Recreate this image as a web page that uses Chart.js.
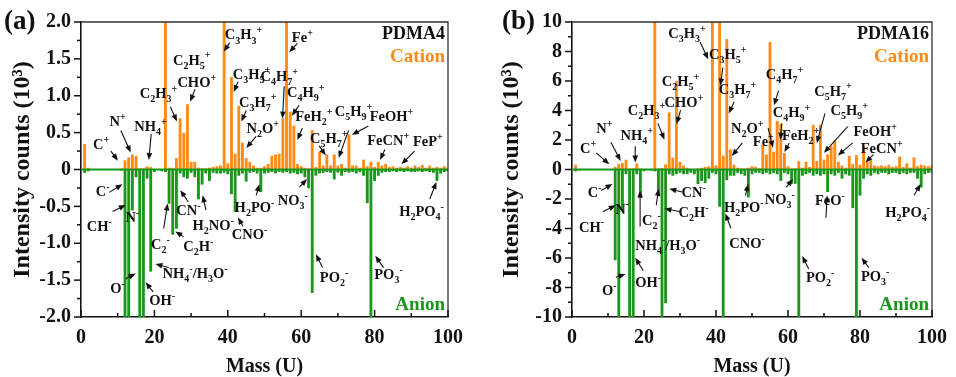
<!DOCTYPE html>
<html><head><meta charset="utf-8">
<script src="https://cdn.jsdelivr.net/npm/chart.js@4.4.1/dist/chart.umd.min.js"></script>
<style>
html,body{margin:0;padding:0;background:#fff;}
#wrap{position:relative;width:956px;height:377px;overflow:hidden;}
.pane{position:absolute;top:0;width:478px;height:377px;}
</style></head>
<body><div id="wrap">
<div class="pane" style="left:0"><canvas id="ca" width="478" height="377"></canvas></div>
<div class="pane" style="left:478px"><canvas id="cb" width="478" height="377"></canvas></div>
</div>
<script>
// ---- data (intensity in 10^3 counts) ----
const mass = [1,2,3,4,5,6,7,8,9,10,11,12,13,14,15,16,17,18,19,20,21,22,23,24,25,26,27,28,29,30,31,32,33,34,35,36,37,38,39,40,41,42,43,44,45,46,47,48,49,50,51,52,53,54,55,56,57,58,59,60,61,62,63,64,65,66,67,68,69,70,71,72,73,74,75,76,77,78,79,80,81,82,83,84,85,86,87,88,89,90,91,92,93,94,95,96,97,98,99,100];

const cationA = [0.34,0.02,0,0,0,0,0,0,0,0,
 0.01,0.12,0.16,0.20,0.18,0.01,0.01,0.04,0.03,0,
 0,0,4.0,0.02,0.02,0.15,0.69,0.49,0.88,0.10,
 0.10,0.02,0.01,0.01,0.02,0.03,0.04,0.05,3.5,0.08,
 1.25,0.21,0.86,0.36,0.15,0.10,0.05,0.02,0.02,0.04,
 0.07,0.18,0.20,0.21,0.69,3.0,0.78,0.59,0.07,0.04,
 0.02,0.01,0.53,0.03,0.24,0.05,0.20,0.05,0.20,0.05,
 0.07,0.02,0.47,0.05,0.05,0.02,0.13,0.04,0.10,0.03,
 0.10,0.05,0.07,0.03,0.04,0.02,0.03,0.02,0.04,0.02,
 0.05,0.03,0.06,0.02,0.05,0.02,0.03,0.02,0.04,0.02];

const anionA = [-0.04,-0.02,0,0,0,0,0,0,0,0,
 -0.01,-3.5,-3.0,-0.55,-0.10,-4.0,-3.0,-0.12,-1.38,-0.03,
 0,-0.02,-0.03,-0.46,-0.88,-0.80,-0.05,-0.10,-0.12,-0.04,
 -0.10,-0.40,-0.20,-0.05,-0.15,-0.04,-0.05,-0.05,-0.04,-0.06,
 -0.33,-0.57,-0.08,-0.05,-0.16,-0.04,-0.03,-0.05,-0.30,-0.05,
 -0.04,-0.03,-0.05,-0.03,-0.04,-0.03,-0.05,-0.04,-0.06,-0.05,
 -0.10,-0.25,-1.67,-0.08,-0.05,-0.04,-0.03,-0.04,-0.13,-0.04,
 -0.08,-0.03,-0.04,-0.03,-0.05,-0.03,-0.08,-0.45,-2.5,-0.15,
 -0.08,-0.04,-0.03,-0.03,-0.02,-0.03,-0.02,-0.03,-0.02,-0.03,
 -0.03,-0.02,-0.03,-0.02,-0.03,-0.04,-0.15,-0.05,-0.03,-0.02];

const cationB = [0.30,0.02,0,0,0,0,0,0,0,0,
 0.02,0.15,0.35,0.42,0.64,0.05,0.05,0.38,0.05,0,
 0,0,15,0.05,0.08,0.33,3.85,0.78,5.96,0.50,
 0.25,0.10,0.02,0.02,0.05,0.10,0.15,0.20,14,0.27,
 12,0.93,8.82,1.34,0.30,0.10,0.05,0.05,0.10,0.20,
 0.15,0.05,1.67,1.00,8.63,1.18,3.27,3.07,1.10,0.20,
 0.05,0.05,0.55,0.10,0.50,0.15,3.00,0.55,3.00,0.65,
 1.00,1.56,1.96,0.50,0.25,0.10,0.90,0.35,0.95,0.30,
 1.56,0.50,0.60,0.25,0.20,0.25,0.20,0.30,0.15,0.20,
 0.85,0.15,0.40,0.10,0.80,0.20,0.30,0.25,0.20,0.25];

const anionB = [-0.10,-0.05,-0.02,-0.02,-0.02,-0.02,-0.02,-0.02,-0.02,-0.02,
 -0.02,-6.13,-14,-2.75,-0.30,-15,-12,-0.30,-1.90,-0.10,
 -0.02,-0.05,-0.10,-1.80,-13,-9.04,-0.30,-0.40,-0.30,-0.20,
 -0.30,-0.30,-0.20,-0.30,-0.97,-0.75,-0.90,-0.60,-0.20,-0.30,
 -2.50,-12,-0.70,-0.40,-0.40,-0.20,-0.30,-0.40,-1.87,-0.30,
 -0.20,-0.20,-0.30,-0.20,-0.30,-0.20,-0.30,-0.75,-0.20,-0.30,
 -0.95,-0.95,-13,-0.40,-0.30,-0.20,-0.40,-0.30,-0.40,-0.30,
 -1.50,-0.30,-0.40,-0.20,-0.60,-0.30,-0.40,-2.60,-14,-1.75,
 -0.60,-0.30,-0.40,-0.20,-0.30,-0.20,-0.20,-0.30,-0.20,-0.20,
 -0.30,-0.20,-0.30,-0.20,-0.20,-0.60,-1.20,-0.30,-0.20,-0.20];

const xTicks = [0,20,40,60,80,100];
const yTicksA = [-2.0,-1.5,-1.0,-0.5,0,0.5,1.0,1.5,2.0];
const yTicksB = [-10,-8,-6,-4,-2,0,2,4,6,8,10];

// ion labels: [text, textMass, textValue, arrowFromMass, arrowFromValue, arrowToMass, arrowToValue]
const ionsA = [
 ['C^+',5.45,0.34,8.15,0.25,10.04,0.12],
 ['N^+',9.96,0.65,10.85,0.53,13.55,0.23],
 ['NH_4^+',18.94,0.59,19.13,0.48,18.48,0.13],
 ['C_2H_3^+',21.1,1.04,24.34,0.85,26.15,0.65],
 ['C_2H_5^+',30.19,1.49],
 ['CHO^+',31.54,1.19,31.08,1.09,29.74,0.92],
 ['C_3H_3^+',44.3,1.83,40.53,1.72,38.91,1.6],
 ['C_3H_5^+',46.47,1.29,42.77,1.19,41.61,1.05],
 ['C_3H_7^+',48.17,0.92,45.03,0.8,43.69,0.65],
 ['N_2O^+',49.52,0.56,47.73,0.45,45.03,0.29],
 ['Fe^+',60.31,1.8,58.96,1.71,56.72,1.59],
 ['C_4H_7^+',54.02,1.27,55.37,1.13,54.91,0.69],
 ['C_4H_9^+',61.22,1.05,59.42,0.87,57.45,0.73],
 ['FeH_2^+',63.46,0.72,60.31,0.56,58.96,0.4],
 ['C_5H_9^+',74.26,0.79,72.91,0.53,70.21,0.16],
 ['C_5H_7^+',67.51,0.43,64.9,0.32,66.7,0.19],
 ['FeOH^+',84.6,0.72,78.3,0.59,73.8,0.47],
 ['FeCN^+',83.7,0.4,82.81,0.27,81.46,0.13],
 ['FeP^+',94.5,0.39,90.9,0.25,87.3,0.07],
 ['C^-',5.91,-0.29,7.69,-0.31,11.31,-0.2],
 ['CH^-',4.99,-0.77,8.61,-0.57,12.2,-0.48],
 ['N^-',14.0,-0.64],
 ['C_2^-',21.64,-1.01,22.53,-0.8,23.61,-0.46],
 ['CN^-',29.28,-0.55,29.28,-0.44,27.04,-0.28],
 ['C_2H^-',31.98,-1.04,27.93,-0.91,25.69,-0.84],
 ['H_2NO^-',36.02,-0.75,34.05,-0.55,33.16,-0.35],
 ['NH_4^-/H_3O^-',31.09,-1.41,23.88,-1.33,20.29,-1.28],
 ['O^-',9.96,-1.61,12.2,-1.48,14.9,-1.41],
 ['OH^-',22.1,-1.77,19.67,-1.66,17.59,-1.53],
 ['CNO^-',45.93,-0.88,44.12,-0.77,42.77,-0.65],
 ['H_2PO^-',47.27,-0.51,47.73,-0.35,48.62,-0.2],
 ['NO_3^-',57.72,-0.41,59.5,-0.24,61.58,-0.13],
 ['PO_2^-',68.94,-1.46,65.81,-1.33,64.0,-1.15],
 ['PO_3^-',83.78,-1.42,82.43,-1.33,80.19,-1.17],
 ['H_2PO_4^-',92.8,-0.56,95.04,-0.4,96.84,-0.17]
];
const ionsB = [
 ['C^+',4.49,1.47,6.76,1.13,10.35,0.35],
 ['N^+',9.0,2.8,10.81,1.85,13.51,0.58],
 ['NH_4^+',18.0,2.35,17.57,1.58,17.57,0.47],
 ['C_2H_3^+',20.7,4.02,23.86,3.13,25.68,2.02],
 ['C_2H_5^+',30.16,6.02],
 ['CHO^+',31.08,4.58,30.16,4.02,29.08,3.09],
 ['C_3H_3^+',31.97,9.25,35.57,8.65,37.84,7.47],
 ['C_3H_5^+',43.24,7.8,41.89,6.91,41.24,5.69],
 ['C_3H_7^+',45.95,5.47,45.03,4.58,43.51,3.8],
 ['N_2O^+',48.65,2.8,47.3,1.8,44.41,0.91],
 ['C_4H_7^+',59.0,6.47,57.38,5.35,56.11,4.35],
 ['C_4H_9^+',60.97,3.91,58.27,3.13,57.92,2.02],
 ['Fe^+',53.14,1.91,54.49,2.8,55.84,1.47],
 ['FeH_2^+',63.51,2.35,60.35,1.8,59.0,1.18],
 ['C_5H_7^+',72.51,5.35,70.27,3.8,68.0,1.8],
 ['C_5H_9^+',77.03,4.02,76.57,2.91,70.0,1.13],
 ['FeOH^+',84.22,2.58,77.92,1.8,73.86,0.95],
 ['FeCN^+',86.03,1.47,83.78,1.02,81.51,0.47],
 ['C^-',6.3,-1.53,8.11,-1.42,11.24,-0.98],
 ['CH^-',5.41,-3.87,8.54,-2.87,12.16,-2.42],
 ['N^-',13.95,-2.65],
 ['O^-',10.35,-8.2,12.16,-7.31,14.86,-7.09],
 ['OH^-',21.16,-7.65,19.81,-6.87,17.57,-5.98],
 ['NH_4^-/H_3O^-',26.57,-5.09,18.92,-3.87,18.92,-1.42],
 ['C_2^-',22.05,-3.42,23.41,-2.42,24.05,-1.31],
 ['CN^-',33.78,-1.53,30.62,-1.53,27.03,-1.31],
 ['C_2H^-',33.78,-2.87,30.16,-2.87,25.68,-2.65],
 ['CNO^-',48.65,-4.98,44.14,-3.98,42.59,-2.98],
 ['H_2PO^-',47.73,-2.53,48.19,-1.75,48.92,-0.98],
 ['NO_3^-',57.73,-1.98,59.54,-1.2,61.35,-0.65],
 ['FeO^-',71.62,-2.09,70.54,-3.27,70.89,-1.75],
 ['PO_2^-',68.92,-7.31,65.76,-6.75,63.95,-5.87],
 ['PO_3^-',84.22,-7.2,82.43,-6.65,80.43,-5.98],
 ['H_2PO_4^-',93.24,-2.87,95.03,-1.75,96.84,-0.98]
];

// ---- styling ----
const FONT = '"Liberation Serif","Times New Roman",serif';
const ORANGE = '#ff8a14';
const GREEN = '#1a961a';

function parseRich(s){
  const out=[];let i=0;
  while(i<s.length){
    const c=s[i];
    if(c==='_'||c==='^'){out.push({t:s[i+1],m:c==='_'?1:2});i+=2;}
    else{out.push({t:c,m:0});i++;}
  }
  return out;
}
function drawRich(ctx,s,cx,cy,size){
  const toks=parseRich(s);
  const small=Math.round(size*0.68);
  let w=0;
  toks.forEach(t=>{ctx.font='bold '+(t.m?small:size)+'px '+FONT;t.w=ctx.measureText(t.t).width;w+=t.w;});
  let x=cx-w/2;const base=cy+size*0.34;
  ctx.textAlign='left';ctx.textBaseline='alphabetic';ctx.fillStyle='#111';
  toks.forEach(t=>{
    ctx.font='bold '+(t.m?small:size)+'px '+FONT;
    const dy=t.m===1?size*0.28:(t.m===2?-size*0.42:0);
    ctx.fillText(t.t,x,base+dy);x+=t.w;
  });
}
function arrow(ctx,x1,y1,x2,y2){
  const a=Math.atan2(y2-y1,x2-x1),L=7,H=2.8;
  ctx.strokeStyle='#111';ctx.fillStyle='#111';ctx.lineWidth=1.1;
  ctx.beginPath();ctx.moveTo(x1,y1);ctx.lineTo(x2-L*0.8*Math.cos(a),y2-L*0.8*Math.sin(a));ctx.stroke();
  ctx.beginPath();ctx.moveTo(x2,y2);
  ctx.lineTo(x2-L*Math.cos(a)+H*Math.sin(a),y2-L*Math.sin(a)-H*Math.cos(a));
  ctx.lineTo(x2-L*Math.cos(a)-H*Math.sin(a),y2-L*Math.sin(a)+H*Math.cos(a));
  ctx.closePath();ctx.fill();
}

const decor = {
  id:'decor',
  afterDatasetsDraw(chart,args,o){
    const {ctx,chartArea:ca,scales:{x,y}}=chart;
    ctx.save();
    // zero line
    const y0=y.getPixelForValue(0);
    ctx.strokeStyle=GREEN;ctx.lineWidth=2.2;
    ctx.beginPath();ctx.moveTo(ca.left,y0);ctx.lineTo(ca.right,y0);ctx.stroke();
    // box top/right
    ctx.strokeStyle='#333';ctx.lineWidth=1.3;
    ctx.beginPath();ctx.moveTo(ca.left,ca.top);ctx.lineTo(ca.right,ca.top);ctx.lineTo(ca.right,ca.bottom);ctx.stroke();
    // ticks
    ctx.strokeStyle='#111';ctx.lineWidth=1.5;
    for(let v=y.min;v<=y.max+1e-9;v+=o.minorY){
      const p=y.getPixelForValue(v);
      const major=Math.abs(Math.round(v/o.majorY)*o.majorY-v)<1e-6;
      ctx.beginPath();ctx.moveTo(ca.left,p);ctx.lineTo(ca.left-(major?7:4),p);ctx.stroke();
    }
    for(let v=x.min;v<=x.max+1e-9;v+=10){
      const p=x.getPixelForValue(v);
      const major=v%20===0;
      ctx.beginPath();ctx.moveTo(p,ca.bottom);ctx.lineTo(p,ca.bottom-(major?7:4));ctx.stroke();
    }
    // ion labels
    o.ions.forEach(a=>{
      if(a.length>3){
        arrow(ctx,x.getPixelForValue(a[3]),y.getPixelForValue(a[4]),x.getPixelForValue(a[5]),y.getPixelForValue(a[6]));
      }
    });
    o.ions.forEach(a=>{
      drawRich(ctx,a[0],x.getPixelForValue(a[1]),y.getPixelForValue(a[2]),14.5);
    });
    // sample / polarity tags
    ctx.textAlign='right';ctx.textBaseline='middle';
    ctx.font='bold 18px '+FONT;ctx.fillStyle='#111';
    ctx.fillText(o.sample,ca.right-3,ca.top+12);
    ctx.font='bold 19px '+FONT;ctx.fillStyle=ORANGE;
    ctx.fillText('Cation',ca.right-3,ca.top+35);
    ctx.fillStyle=GREEN;
    ctx.fillText('Anion',ca.right-3,ca.bottom-12);
    // panel letter
    ctx.textAlign='left';ctx.fillStyle='#111';ctx.font='bold 27px '+FONT;
    ctx.fillText(o.letter,o.letterX,22);
    ctx.restore();
  }
};

function makeChart(id,cat,an,cfg){
  const pts=(arr)=>mass.map((m,i)=>({x:m,y:arr[i]}));
  return new Chart(document.getElementById(id),{
    type:'bar',
    data:{datasets:[
      {label:'Cation',data:pts(cat),backgroundColor:ORANGE,barThickness:2.2,grouped:false},
      {label:'Anion',data:pts(an),backgroundColor:GREEN,barThickness:2.2,grouped:false}
    ]},
    options:{
      responsive:false,animation:false,devicePixelRatio:1,
      layout:{padding:{left:0,right:cfg.padRight,top:17,bottom:0}},
      plugins:{legend:{display:false},tooltip:{enabled:false},
        decor:{ions:cfg.ions,sample:cfg.sample,letter:cfg.letter,letterX:cfg.letterX,minorY:cfg.minorY,majorY:cfg.majorY}},
      scales:{
        x:{type:'linear',min:0,max:100,offset:false,
          afterBuildTicks:s=>{s.ticks=xTicks.map(v=>({value:v}));},
          afterFit:s=>{s.height=60;},
          grid:{display:false,drawTicks:false},
          border:{display:true,color:'#111',width:1.6},
          ticks:{color:'#111',padding:9,font:{family:FONT,size:20,weight:'bold'},maxRotation:0,autoSkip:false},
          title:{display:true,text:'Mass (U)',color:'#111',font:{family:FONT,size:20,weight:'bold',lineHeight:1.0},padding:{top:0,bottom:0}}
        },
        y:{min:cfg.ymin,max:cfg.ymax,
          afterBuildTicks:s=>{s.ticks=cfg.yTicks.map(v=>({value:v}));},
          afterFit:s=>{s.width=cfg.yWidth;},
          grid:{display:false,drawTicks:false},
          border:{display:true,color:'#111',width:1.6},
          ticks:{color:'#111',padding:10,font:{family:FONT,size:20,weight:'bold'},callback:cfg.fmt,autoSkip:false},
          title:{display:true,text:'Intensity counts (10³)',color:'#111',font:{family:FONT,size:24,weight:'bold',lineHeight:1.2},padding:{top:cfg.titlePad,bottom:0}}
        }
      }
    },
    plugins:[decor]
  });
}

makeChart('ca',cationA,anionA,{ions:ionsA,sample:'PDMA4',letter:'(a)',letterX:4,padRight:30,yWidth:81,titlePad:8,
  ymin:-2,ymax:2,yTicks:yTicksA,minorY:0.25,majorY:0.5,fmt:v=>v===0?'0':v.toFixed(1)});
makeChart('cb',cationB,anionB,{ions:ionsB,sample:'PDMA16',letter:'(b)',letterX:24,padRight:14,yWidth:94,titlePad:19,
  ymin:-10,ymax:10,yTicks:yTicksB,minorY:1,majorY:2,fmt:v=>String(v)});
</script>
</body></html>
